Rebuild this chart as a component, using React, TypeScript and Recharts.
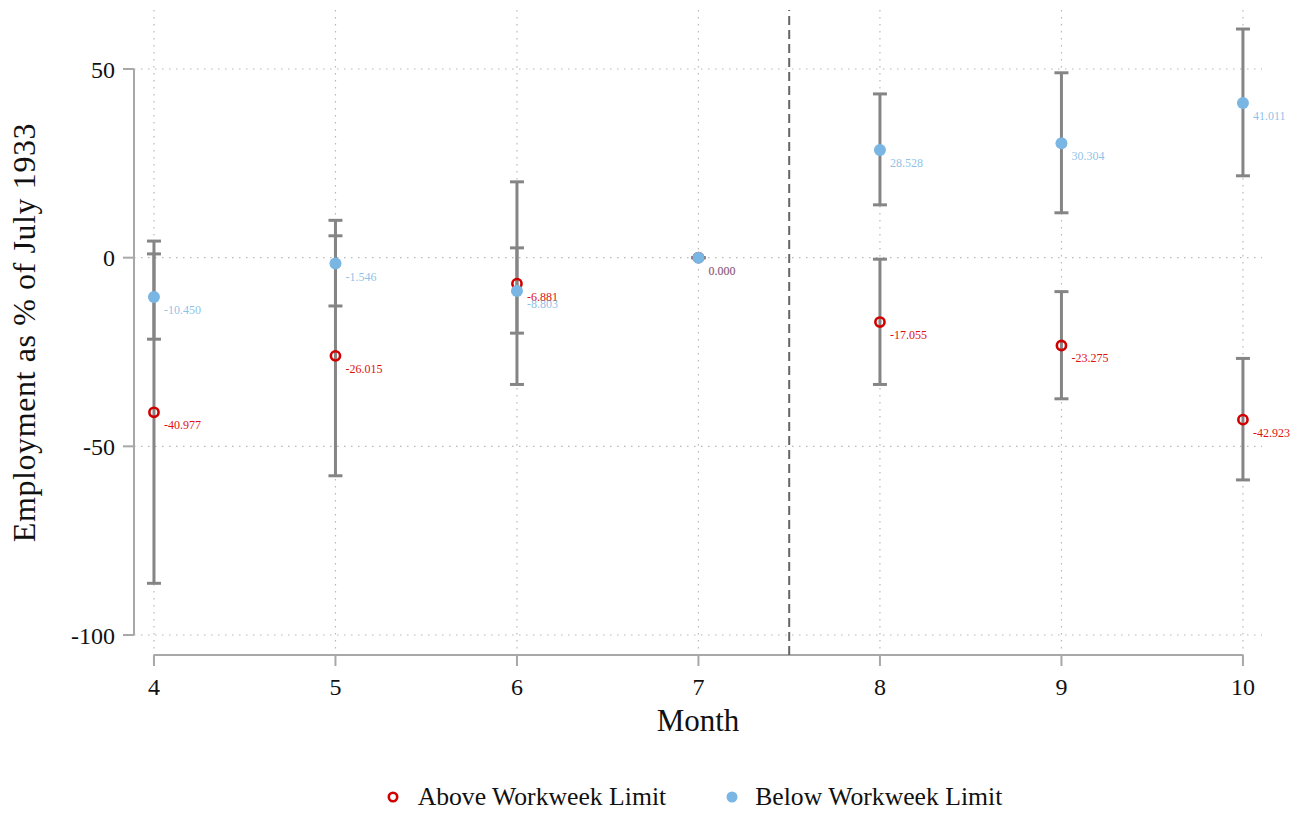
import {
  ScatterChart,
  Scatter,
  XAxis,
  YAxis,
  CartesianGrid,
  ReferenceLine,
  ErrorBar,
  Legend,
} from 'recharts';

const FONT = '"Liberation Serif", "Times New Roman", serif';

const months = [4, 5, 6, 7, 8, 9, 10];

// Above Workweek Limit: point estimates and CI bounds
const aboveValues = [-40.977, -26.015, -6.881, 0, -17.055, -23.275, -42.923];
const aboveLower = [-86.3, -57.8, -33.6, 0, -33.6, -37.4, -58.9];
const aboveUpper = [4.4, 5.8, 20.1, 0, -0.4, -9.0, -26.7];

// Below Workweek Limit
const belowValues = [-10.45, -1.546, -8.803, 0, 28.528, 30.304, 41.011];
const belowLower = [-21.6, -12.8, -20.0, 0, 14.0, 11.9, 21.7];
const belowUpper = [1.0, 9.9, 2.6, 0, 43.4, 49.0, 60.6];

const yTicks = [-100, -50, 0, 50];

const RED = '#d10000';
const RED_LABEL = '#e01010';
const BLUE = '#7ab6e3';
const BLUE_LABEL = '#5aa5dc';
const GRAY = '#858585';
const AXIS = '#a8a8a8';

const X_DOMAIN: [number, number] = [3.89, 10.105];
const Y_DOMAIN: [number, number] = [-105.3, 65.64];

const build = (values: number[], lower: number[], upper: number[]) =>
  months.map((m, i) => ({
    month: m,
    value: values[i],
    err: [values[i] - lower[i], upper[i] - values[i]],
  }));

const aboveData = build(aboveValues, aboveLower, aboveUpper);
const belowData = build(belowValues, belowLower, belowUpper);

const RedPoint = (props: any) => {
  const { cx, cy, payload } = props;
  return (
    <g>
      <circle cx={cx} cy={cy} r={4.6} fill="none" stroke={RED} strokeWidth={2.6} />
      <text x={cx + 10} y={cy + 17} fontSize={12} fill={RED_LABEL} fontFamily={FONT}>
        {payload.value.toFixed(3)}
      </text>
    </g>
  );
};

const BluePoint = (props: any) => {
  const { cx, cy, payload } = props;
  return (
    <g>
      <circle cx={cx} cy={cy} r={6} fill={BLUE} />
      <text
        x={cx + 10}
        y={cy + 17}
        fontSize={12}
        fill={BLUE_LABEL}
        fillOpacity={0.7}
        fontFamily={FONT}
      >
        {payload.value.toFixed(3)}
      </text>
    </g>
  );
};

const renderLegend = () => (
  <div
    style={{
      height: 78,
      display: 'flex',
      justifyContent: 'center',
      alignItems: 'flex-start',
      paddingTop: 49,
      boxSizing: 'border-box',
      fontFamily: FONT,
      fontSize: 25.7,
      color: '#111',
    }}
  >
    <div style={{ display: 'flex', alignItems: 'center', marginRight: 59 }}>
      <svg width={14} height={14} style={{ marginRight: 18 }}>
        <circle cx={7} cy={7} r={4.2} fill="none" stroke={RED} strokeWidth={2.6} />
      </svg>
      <span style={{ lineHeight: '26px' }}>Above Workweek Limit</span>
    </div>
    <div style={{ display: 'flex', alignItems: 'center' }}>
      <svg width={14} height={14} style={{ marginRight: 16 }}>
        <circle cx={7} cy={7} r={5.5} fill={BLUE} />
      </svg>
      <span style={{ lineHeight: '26px' }}>Below Workweek Limit</span>
    </div>
  </div>
);

export default function App() {
  return (
    <div style={{ position: 'absolute', left: 0, top: 0, width: 1305, height: 813, background: '#fff' }}>
      <ScatterChart width={1305} height={813} margin={{ top: 10, right: 43, left: 0, bottom: 0 }}>
        <CartesianGrid
          stroke="#b8b8b8"
          strokeWidth={1.2}
          strokeDasharray="1.5 5.5"
          horizontalValues={yTicks}
          verticalValues={months}
        />
        <XAxis
          type="number"
          dataKey="month"
          domain={X_DOMAIN}
          ticks={months}
          interval={0}
          height={80}
          axisLine={false}
          tickSize={11}
          tickMargin={12}
          tickLine={{ stroke: AXIS, strokeWidth: 2 }}
          tick={{ fill: '#111', fontSize: 24, fontFamily: FONT }}
          label={{
            value: 'Month',
            position: 'insideBottom',
            offset: 4,
            style: { fill: '#111', fontSize: 31, fontFamily: FONT },
          }}
        />
        <YAxis
          type="number"
          dataKey="value"
          domain={Y_DOMAIN}
          ticks={yTicks}
          interval={0}
          width={134}
          axisLine={false}
          tickSize={11}
          tickMargin={8}
          tickLine={{ stroke: AXIS, strokeWidth: 2 }}
          tick={{ fill: '#111', fontSize: 24, fontFamily: FONT }}
          label={{
            value: 'Employment as % of July 1933',
            angle: -90,
            position: 'insideLeft',
            offset: 24,
            style: { fill: '#111', fontSize: 32, letterSpacing: 0.6, fontFamily: FONT, textAnchor: 'middle' },
          }}
        />
        <ReferenceLine
          segment={[
            { x: X_DOMAIN[0], y: -100 },
            { x: X_DOMAIN[0], y: 50 },
          ]}
          stroke={AXIS}
          strokeWidth={2}
          ifOverflow="visible"
        />
        <ReferenceLine
          segment={[
            { x: 4, y: Y_DOMAIN[0] },
            { x: 10, y: Y_DOMAIN[0] },
          ]}
          stroke={AXIS}
          strokeWidth={2}
          ifOverflow="visible"
        />
        <ReferenceLine x={7.5} stroke="#666" strokeWidth={2} strokeDasharray="9 5" />
        <Legend verticalAlign="bottom" content={renderLegend} wrapperStyle={{ left: 130, width: 1128 }} />
        <Scatter
          name="Above Workweek Limit"
          data={aboveData}
          dataKey="value"
          shape={RedPoint}
          isAnimationActive={false}
        >
          <ErrorBar dataKey="err" direction="y" width={7} stroke={GRAY} strokeWidth={3} />
        </Scatter>
        <Scatter
          name="Below Workweek Limit"
          data={belowData}
          dataKey="value"
          shape={BluePoint}
          isAnimationActive={false}
        >
          <ErrorBar dataKey="err" direction="y" width={7} stroke={GRAY} strokeWidth={3} />
        </Scatter>
      </ScatterChart>
    </div>
  );
}
